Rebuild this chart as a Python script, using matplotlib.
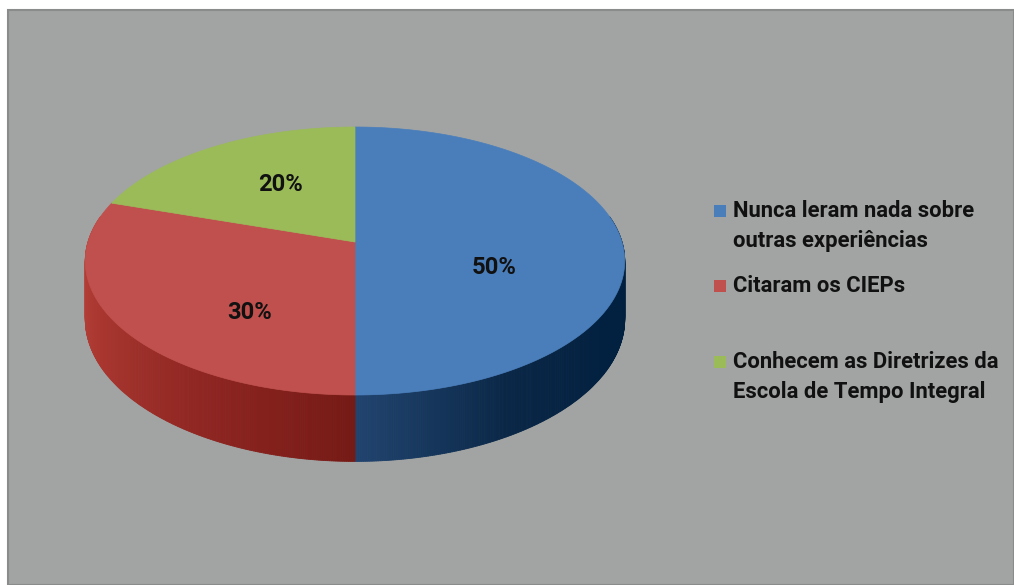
import numpy as np
import matplotlib
matplotlib.use("Agg")
import matplotlib.pyplot as plt
from matplotlib.patches import Polygon, Rectangle
from matplotlib.colors import to_rgb

# Data
categories = [
    "Nunca leram nada sobre\noutras experiências",
    "Citaram os CIEPs",
    "Conhecem as Diretrizes da\nEscola de Tempo Integral",
]
values = [50, 30, 20]
value_labels = ["50%", "30%", "20%"]

# Styling
top_colors = ["#4A7EBB", "#C0504D", "#9BBB59"]
side_colors = [
    ["#21446F", "#0A2747", "#02203F", "#01203F"],  # blue wall: front -> right
    ["#761A16", "#8F2622", "#A8362F", "#B8433C"],  # red wall: front -> left
    ["#6F8A3A", "#6F8A3A"],
]
bg_color = "#A1A4A3"
text_color = "#111111"
font = "Roboto"

W, H = 1014, 585
fig = plt.figure(figsize=(W / 100, H / 100), dpi=100)
fig.patch.set_facecolor("white")
ax = fig.add_axes([0, 0, 1, 1])
ax.set_xlim(0, W)
ax.set_ylim(H, 0)
ax.axis("off")

# Chart area panel
ax.add_patch(Rectangle((8, 10), W - 8, H - 10, facecolor=bg_color,
                       edgecolor="#8A8C8B", linewidth=1.5, zorder=0))

# Pie geometry in pixel space (y grows downward), with a perspective tilt
cx, cy = 355, 242          # projected centre of the top face
R, B = 267.0, 131.3        # horizontal radius, vertical radius
k = 0.1418                 # perspective strength (far side shrinks)
d0 = 57.0                  # wall height


def project(t, r=1.0):
    s = 1.0 + k * r * np.sin(t)
    return cx + r * R * np.cos(t) / s, cy - r * B * np.sin(t) / s


def wall(t):
    return d0 / (1.0 + k * np.sin(t))


# Slice angle ranges: start at the top, go clockwise
total = float(sum(values))
bounds = []
start = np.pi / 2
for v in values:
    end = start - 2 * np.pi * v / total
    bounds.append((start, end))
    start = end


def blend(stops, f):
    stops = [np.array(to_rgb(c)) for c in stops]
    f = float(np.clip(f, 0, 1)) * (len(stops) - 1)
    i = min(int(f), len(stops) - 2)
    return tuple(stops[i] + (stops[i + 1] - stops[i]) * (f - i))


# Outer walls on the near half of the pie
for (t0, t1), stops in zip(bounds, side_colors):
    lo, hi = min(t0, t1), max(t0, t1)
    for shift in (0, -2 * np.pi, 2 * np.pi):
        s_lo, s_hi = max(lo + shift, -np.pi - 0.2), min(hi + shift, 0.2)
        if s_hi <= s_lo:
            continue
        ts = np.linspace(s_lo, s_hi, 260)
        for ta, tb in zip(ts[:-1], ts[1:]):
            tm = 0.5 * (ta + tb)
            f = abs(tm + np.pi / 2) / (np.pi / 2)
            col = blend(stops, f)
            xa, ya = project(ta)
            xb, yb = project(tb)
            quad = [(xa, ya), (xb, yb), (xb, yb + wall(tb)), (xa, ya + wall(ta))]
            ax.add_patch(Polygon(quad, closed=True, facecolor=col,
                                 edgecolor=col, linewidth=0.6, zorder=2))

# Top faces
for (t0, t1), col in zip(bounds, top_colors):
    ts = np.linspace(t0, t1, 300)
    xs, ys = project(ts)
    verts = [(cx, cy)] + list(zip(xs, ys))
    ax.add_patch(Polygon(verts, closed=True, facecolor=col, edgecolor=col,
                         linewidth=0.5, zorder=3))

# Fit the text size so the first legend line spans ~242 px
probe = ax.text(0, 0, categories[0].split("\n")[0], fontsize=15,
                fontweight="bold", family=font)
fig.canvas.draw()
wpx = probe.get_window_extent().width
probe.remove()
fsize = 15 * 242.0 / wpx

# Value labels (radial fraction, extra vertical offset)
label_place = [(0.52, 25), (0.47, 33), (0.50, -7)]
for (t0, t1), lab, (rf, dy) in zip(bounds, value_labels, label_place):
    x, y = project(0.5 * (t0 + t1), rf)
    ax.text(x, y + dy, lab, fontsize=fsize * 1.08, fontweight="bold",
            family=font, color=text_color, ha="center", va="center", zorder=5)

# Legend
legend_y = [211, 286, 362]
line_gap = 30
for cat, col, y in zip(categories, top_colors, legend_y):
    ax.add_patch(Rectangle((714, y - 6), 12, 12, facecolor=col,
                           edgecolor="none", zorder=5))
    for j, line in enumerate(cat.split("\n")):
        ax.text(733, y + j * line_gap, line, fontsize=fsize, fontweight="bold",
                family=font, color=text_color, ha="left", va="center", zorder=5)

fig.savefig("out.png", dpi=100, facecolor=fig.get_facecolor())
